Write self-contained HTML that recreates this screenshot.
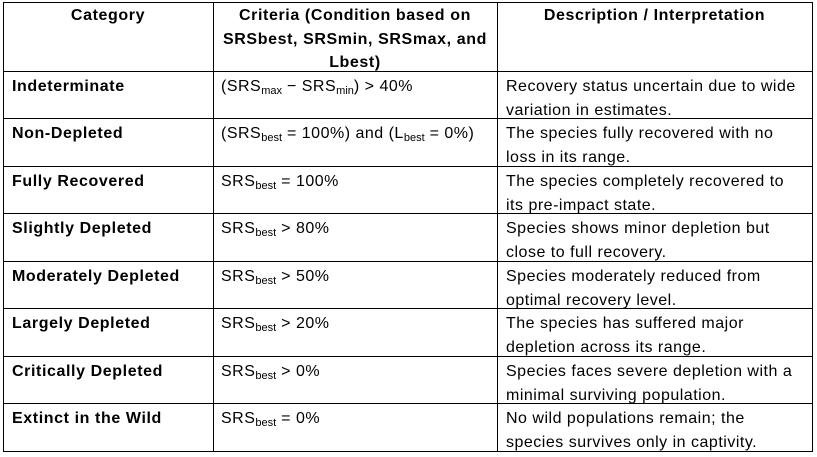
<!DOCTYPE html>
<html><head><meta charset="utf-8"><style>
body{margin:0;width:817px;height:457px;background:#fff;overflow:hidden;font-family:"Liberation Sans",sans-serif;font-size:16px;letter-spacing:0.5px;color:#000}
.v{position:absolute;width:1px;background:#000;top:2px;height:450px}
.h{position:absolute;height:1px;background:#000;left:3px;width:810px}
.t{position:absolute;line-height:23.5px;white-space:nowrap}
.b{font-weight:bold;letter-spacing:0.6px}
.c{text-align:center}
sub{font-size:11px;vertical-align:-3px;line-height:0;letter-spacing:0}
</style></head><body>
<div class="v" style="left:3px"></div>
<div class="v" style="left:213px"></div>
<div class="v" style="left:497px"></div>
<div class="v" style="left:812px"></div>
<div class="h" style="top:2px"></div>
<div class="h" style="top:71px"></div>
<div class="h" style="top:118px"></div>
<div class="h" style="top:166px"></div>
<div class="h" style="top:213px"></div>
<div class="h" style="top:261px"></div>
<div class="h" style="top:308px"></div>
<div class="h" style="top:356px"></div>
<div class="h" style="top:403px"></div>
<div class="h" style="top:451px"></div>

<div class="t b c" style="left:3px;width:210px;top:4px">Category</div>
<div class="t b c" style="left:213px;width:284px;top:4px">Criteria (Condition based on<br>SRSbest, SRSmin, SRSmax, and<br>Lbest)</div>
<div class="t b c" style="left:497px;width:315px;top:4px">Description / Interpretation</div>

<div class="t b" style="left:12px;top:75px">Indeterminate</div>
<div class="t" style="left:221px;top:75px">(SRS<sub>max</sub> − SRS<sub>min</sub>) &gt; 40%</div>
<div class="t" style="left:506px;top:75px">Recovery status uncertain due to wide<br>variation in estimates.</div>

<div class="t b" style="left:12px;top:122px">Non-Depleted</div>
<div class="t" style="left:221px;top:122px">(SRS<sub>best</sub> = 100%) and (L<sub>best</sub> = 0%)</div>
<div class="t" style="left:506px;top:122px">The species fully recovered with no<br>loss in its range.</div>

<div class="t b" style="left:12px;top:170px">Fully Recovered</div>
<div class="t" style="left:221px;top:170px">SRS<sub>best</sub> = 100%</div>
<div class="t" style="left:506px;top:170px">The species completely recovered to<br>its pre-impact state.</div>

<div class="t b" style="left:12px;top:217px">Slightly Depleted</div>
<div class="t" style="left:221px;top:217px">SRS<sub>best</sub> &gt; 80%</div>
<div class="t" style="left:506px;top:217px">Species shows minor depletion but<br>close to full recovery.</div>

<div class="t b" style="left:12px;top:265px">Moderately Depleted</div>
<div class="t" style="left:221px;top:265px">SRS<sub>best</sub> &gt; 50%</div>
<div class="t" style="left:506px;top:265px">Species moderately reduced from<br>optimal recovery level.</div>

<div class="t b" style="left:12px;top:312px">Largely Depleted</div>
<div class="t" style="left:221px;top:312px">SRS<sub>best</sub> &gt; 20%</div>
<div class="t" style="left:506px;top:312px">The species has suffered major<br>depletion across its range.</div>

<div class="t b" style="left:12px;top:360px">Critically Depleted</div>
<div class="t" style="left:221px;top:360px">SRS<sub>best</sub> &gt; 0%</div>
<div class="t" style="left:506px;top:360px">Species faces severe depletion with a<br>minimal surviving population.</div>

<div class="t b" style="left:12px;top:407px">Extinct in the Wild</div>
<div class="t" style="left:221px;top:407px">SRS<sub>best</sub> = 0%</div>
<div class="t" style="left:506px;top:407px">No wild populations remain; the<br>species survives only in captivity.</div>
</body></html>
